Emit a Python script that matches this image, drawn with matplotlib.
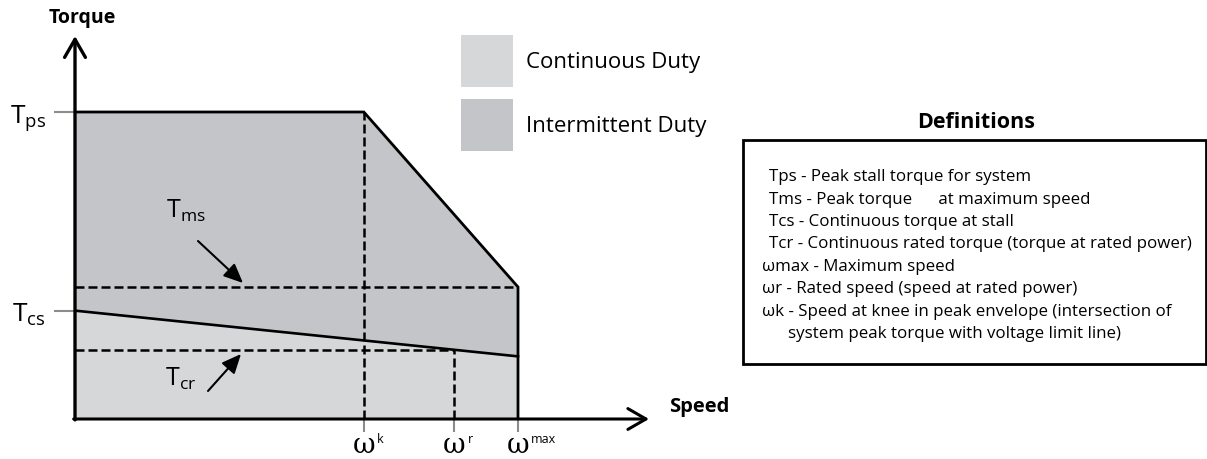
import matplotlib
matplotlib.use("Agg")
import matplotlib.pyplot as plt
from matplotlib.patches import Polygon, Rectangle, Patch

plt.rcParams['font.family'] = ['Open Sans', 'DejaVu Sans']
plt.rcParams['mathtext.fontset'] = 'custom'
plt.rcParams['mathtext.rm'] = 'Open Sans'
plt.rcParams['mathtext.it'] = 'Open Sans'

# ---- data (normalised: Tps = 1, omega_max = 1) ----
T_ps = 1.0
T_ms = 0.43
T_cs = 0.353
T_cr = 0.225
T_cont_end = 0.204
w_k = 0.652
w_r = 0.856
w_max = 1.0

speed_tick_values = [w_k, w_r, w_max]
speed_tick_sups = ["k", "r", "max"]
torque_tick_values = [T_ps, T_cs]
torque_tick_labels = [r"T$_{\mathregular{ps}}$", r"T$_{\mathregular{cs}}$"]

legend_labels = ["Continuous Duty", "Intermittent Duty"]
definitions = [
    ("Tps - Peak stall torque for system", 0),
    ("Tms - Peak torque      at maximum speed", 0),
    ("Tcs - Continuous torque at stall", 0),
    ("Tcr - Continuous rated torque (torque at rated power)", 0),
    ("\u03c9max - Maximum speed", 1),
    ("\u03c9r - Rated speed (speed at rated power)", 1),
    ("\u03c9k - Speed at knee in peak envelope (intersection of", 1),
    ("system peak torque with voltage limit line)", 2),
]

C_CONT = "#d5d7d9"
C_INT = "#c3c5c8"

W, H = 1207, 460
fig = plt.figure(figsize=(W / 100, H / 100), dpi=100)

# main axes: origin at pixel (75, 420), arrow tips at x=649, y=37
x0, y0, x1, y1 = 75, 420, 649, 37
ax = fig.add_axes([x0 / W, 1 - y0 / H, (x1 - x0) / W, (y0 - y1) / H])
ax.set_xlim(0, (x1 - x0) / 443)
ax.set_ylim(0, (y0 - y1) / 307)
for s in ax.spines.values():
    s.set_visible(False)
ax.patch.set_alpha(0)

# intermittent envelope
env_x = [0, 0, w_k, w_max, w_max]
env_y = [0, T_ps, T_ps, T_ms, 0]
ax.add_patch(Polygon(list(zip(env_x, env_y)), closed=True, fc=C_INT, ec='none', zorder=1))
# continuous region
cont_x = [0, 0, w_max, w_max]
cont_y = [0, T_cs, T_cont_end, 0]
ax.add_patch(Polygon(list(zip(cont_x, cont_y)), closed=True, fc=C_CONT, ec='none', zorder=2))

# envelope outline
ax.plot([0, w_k, w_max, w_max], [T_ps, T_ps, T_ms, 0], color='black', lw=2.0, zorder=4,
        solid_joinstyle='miter')
ax.plot([0, w_max], [T_cs, T_cont_end], color='black', lw=1.9, zorder=4)

# dashed guide lines
dash = dict(color='black', lw=1.8, linestyle=(0, (3.6, 1.6)), zorder=3)
ax.plot([0, w_max], [T_ms, T_ms], **dash)
ax.plot([0, w_r], [T_cr, T_cr], **dash)
ax.plot([w_k, w_k], [0, T_ps], **dash)
ax.plot([w_r, w_r], [0, T_cr], **dash)

# axes arrows
ax.annotate('', xy=(ax.get_xlim()[1], 0), xytext=(-0.003, 0),
            arrowprops=dict(arrowstyle='->,head_length=1.3,head_width=0.75', lw=2.2,
                            color='black', shrinkA=0, shrinkB=0), annotation_clip=False, zorder=5)
ax.annotate('', xy=(0, ax.get_ylim()[1]), xytext=(0, -0.003),
            arrowprops=dict(arrowstyle='->,head_length=1.3,head_width=0.75', lw=2.4,
                            color='black', shrinkA=0, shrinkB=0), annotation_clip=False, zorder=5)

# ticks
ax.set_yticks(torque_tick_values, labels=torque_tick_labels)
ax.tick_params(axis='y', length=15, width=1.5, color='#8c8c8c', pad=6, labelsize=19)
ax.set_xticks(speed_tick_values, labels=[''] * 3)
ax.tick_params(axis='x', length=9, width=1.5, color='#8c8c8c', pad=2)

for xv, sup in zip(speed_tick_values, speed_tick_sups):
    ax.annotate('\u03c9', xy=(xv, 0), xytext=(0, -23.8), textcoords='offset points',
                ha='center', va='baseline', fontsize=20, family='DejaVu Serif', annotation_clip=False)
    ax.annotate(sup, xy=(xv, 0), xytext=(9.5, -9.5), textcoords='offset points',
                ha='left', va='top', fontsize=9, annotation_clip=False)

def px2d(px, py):
    return ((px - x0) / 443, (y0 - py) / 307)

# T_ms and T_cr annotations
arrow_kw = dict(arrowstyle='-|>,head_length=0.9,head_width=0.4', lw=1.5, color='black',
                shrinkA=0, shrinkB=0, mutation_scale=13)
ax.text(*px2d(186, 211), r"T$_{\mathregular{ms}}$", ha='center', va='center', fontsize=18)
ax.annotate('', xy=px2d(243, 284), xytext=px2d(198, 242), arrowprops=arrow_kw)
ax.text(*px2d(181, 379), r"T$_{\mathregular{cr}}$", ha='center', va='center', fontsize=18)
ax.annotate('', xy=px2d(241, 355), xytext=px2d(208, 392), arrowprops=arrow_kw)

# axis titles
fig.text(82 / W, 1 - 18 / H, "Torque", ha='center', va='center', fontsize=14, fontweight='bold')
fig.text(699 / W, 1 - 407 / H, "Speed", ha='center', va='center', fontsize=14.5, fontweight='bold')

# legend
handles = [Patch(fc=C_CONT, ec='none'), Patch(fc=C_INT, ec='none')]
fig.legend(handles, legend_labels, loc='upper left', bbox_to_anchor=(461 / W, 1 - 36 / H),
           frameon=False, fontsize=16, handlelength=2.34, handleheight=3.22, labelspacing=0.54,
           handletextpad=0.58, borderpad=0, borderaxespad=0)

# definitions box
fig.text(976 / W, 1 - 122 / H, "Definitions", ha='center', va='center', fontsize=15.5, fontweight='bold')
fig.patches.append(Rectangle((743 / W, 1 - 365 / H), (1206 - 743) / W, (365 - 141) / H,
                             transform=fig.transFigure, fill=False, ec='black', lw=2.0))
x_starts = {0: 769, 1: 762, 2: 788}
for i, (txt, kind) in enumerate(definitions):
    fig.text(x_starts[kind] / W, 1 - (177 + 22.5 * i) / H, txt, ha='left', va='center', fontsize=12.2)

fig.savefig("out.png", dpi=100)
